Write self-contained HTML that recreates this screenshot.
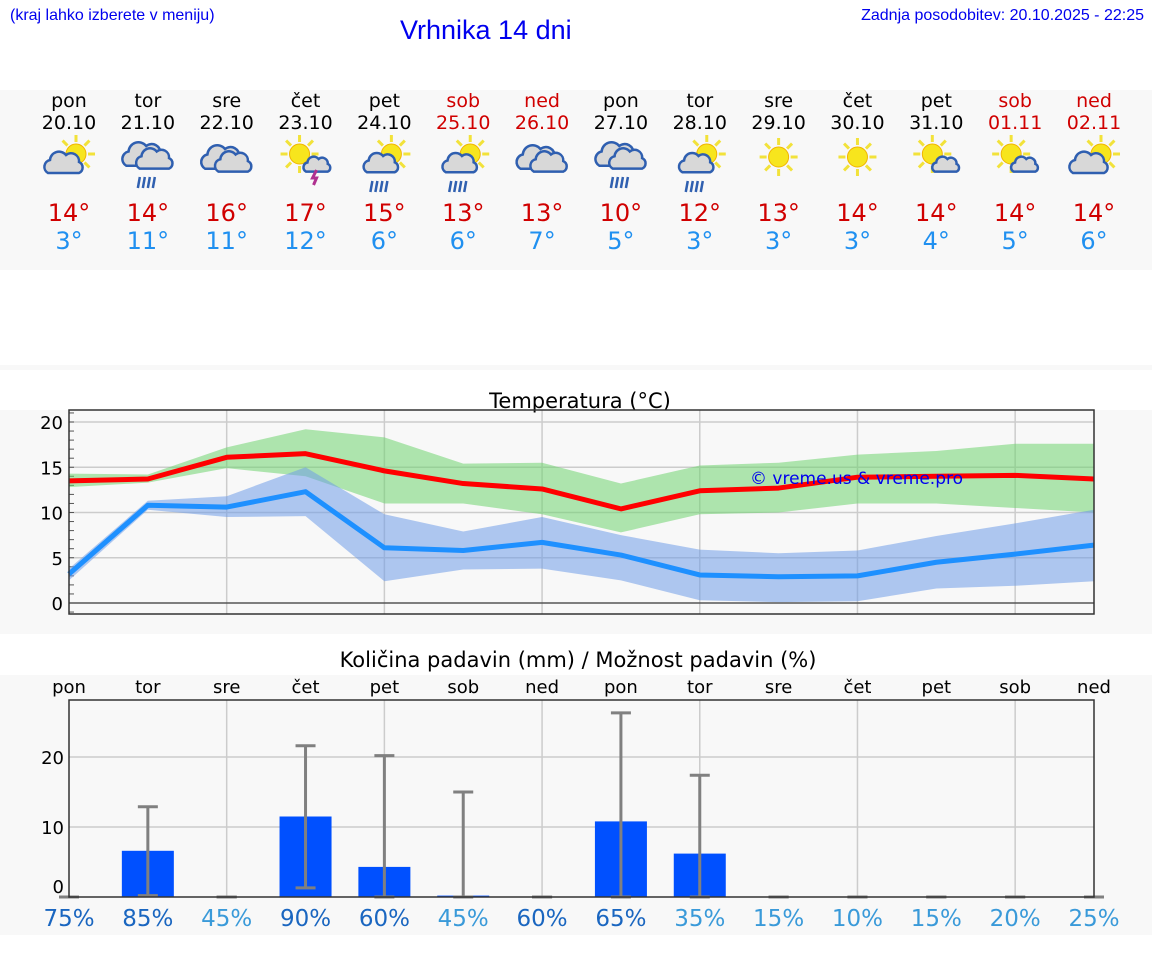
<!DOCTYPE html>
<html><head><meta charset="utf-8">
<style>
body{margin:0;width:1152px;height:975px;background:#fff;font-family:"DejaVu Sans","Liberation Sans",sans-serif;position:relative;overflow:hidden}
.abs{position:absolute}
</style></head><body>
<div class="abs" style="left:10px;top:7px;font:16px 'Liberation Sans',sans-serif;color:#0000ee">(kraj lahko izberete v meniju)</div>
<div class="abs" style="left:400px;top:15px;font:27px 'Liberation Sans',sans-serif;color:#0000ee">Vrhnika 14 dni</div>
<div class="abs" style="right:8px;top:7px;font:16px 'Liberation Sans',sans-serif;color:#0000ee">Zadnja posodobitev: 20.10.2025 - 22:25</div>
<svg id="svg" class="abs" style="left:0;top:0" width="1152" height="975"></svg>
<script>
const days=["pon","tor","sre","čet","pet","sob","ned","pon","tor","sre","čet","pet","sob","ned"];
const dates=["20.10","21.10","22.10","23.10","24.10","25.10","26.10","27.10","28.10","29.10","30.10","31.10","01.11","02.11"];
const icons=["sc","cr","c","st","sr","sr","c","cr","sr","s","s","sc2","sc2","sc"];
const tmax=[14,14,16,17,15,13,13,10,12,13,14,14,14,14];
const tmin=[3,11,11,12,6,6,7,5,3,3,3,4,5,6];
const maxLine=[13.5,13.7,16.1,16.5,14.6,13.2,12.6,10.4,12.4,12.7,13.9,14.0,14.1,13.7];
const maxHi=[14.3,14.2,17.2,19.2,18.3,15.4,15.5,13.2,15.2,15.5,16.4,16.8,17.6,17.6];
const maxLo=[12.8,13.3,14.9,14.0,11.0,11.0,9.8,7.8,9.8,10.0,11.0,11.0,10.5,10.0];
const minLine=[3.2,10.8,10.6,12.3,6.1,5.8,6.7,5.3,3.1,2.9,3.0,4.5,5.4,6.4];
const minHi=[3.8,11.3,11.8,15.0,9.8,7.9,9.5,7.5,5.9,5.5,5.8,7.4,8.8,10.3];
const minLo=[2.5,10.3,9.5,9.6,2.4,3.7,3.8,2.5,0.3,0.1,0.2,1.6,1.9,2.4];
const precip=[0,6.6,0,11.5,4.3,0.2,0,10.8,6.2,0,0,0,0,0];
const errLo=[0,0.2,0,1.3,0,0,0,0,0,0,0,0,0,0];
const errHi=[0,12.9,0,21.6,20.2,15,0,26.3,17.4,0,0,0,0,0];
const prob=[75,85,45,90,60,45,60,65,35,15,10,15,20,25];
const tTicks=[0,5,10,15,20];
const pTicks=[0,10,20];
const NS="http://www.w3.org/2000/svg";
const svg=document.getElementById('svg');
function el(t,a,p){const e=document.createElementNS(NS,t);for(const k in a)e.setAttribute(k,a[k]);(p||svg).appendChild(e);return e;}
function txt(x,y,s,sz,col,anchor){const e=el('text',{x:x,y:y,'font-size':sz,fill:col,'text-anchor':anchor||'middle','font-family':'DejaVu Sans, Liberation Sans, sans-serif'});e.textContent=s;return e;}
const X0=69,X1=1094;
const xd=i=>X0+i*(X1-X0)/13;
let r=el('rect',{x:0,y:90,width:1152,height:180,fill:'#f8f8f8'});
el('rect',{x:0,y:365,width:1152,height:5,fill:'#f8f8f8'});
r=el('rect',{x:0,y:410,width:1152,height:224,fill:'#f8f8f8'});
r=el('rect',{x:0,y:675,width:1152,height:260,fill:'#f8f8f8'});
function sun(g,cx,cy,rr){for(let k=0;k<8;k++){const a=k*Math.PI/4;el('line',{x1:cx+Math.cos(a)*(rr+2),y1:cy+Math.sin(a)*(rr+2),x2:cx+Math.cos(a)*(rr+9),y2:cy+Math.sin(a)*(rr+9),stroke:'#f2e23a','stroke-width':3},g);}el('circle',{cx:cx,cy:cy,r:rr,fill:'#f7e51d',stroke:'#f0b400','stroke-width':1},g);}
function cloud(g,cx,cy,s){const p=`M${cx-15*s},${cy+8*s} a${7*s},${7*s} 0 0 1 ${2*s},${-13*s} a${9*s},${9*s} 0 0 1 ${16*s},${-5*s} a${8*s},${8*s} 0 0 1 ${13*s},${7*s} a${6*s},${6*s} 0 0 1 ${0},${11*s} z`;el('path',{d:p,fill:'#d8d8d8',stroke:'#2f5fb0','stroke-width':2.5},g);}
function rain(g,cx,cy){for(let k=0;k<4;k++)el('line',{x1:cx-8+k*5,y1:cy,x2:cx-10+k*5,y2:cy+11,stroke:'#3060b0','stroke-width':2.5},g);}
for(let i=0;i<14;i++){const x=xd(i);const we=(i==5||i==6||i==12||i==13);const col=we?'#d00000':'#000';
 let t=txt(x,107,days[i],19,col);
 t=txt(x,129,dates[i],19,col);
 const g=el('g',{});
 const ic=icons[i];
 if(ic=='s'){sun(g,x,157,10);}
 else if(ic=='sc'){sun(g,x+7,154,10);cloud(g,x-6,165,1.0);}
 else if(ic=='sc2'){sun(g,x-4,154,10);cloud(g,x+9,166,0.7);}
 else if(ic=='c'){cloud(g,x-5,160,1.1);cloud(g,x+6,164,0.95);}
 else if(ic=='cr'){cloud(g,x-5,157,1.1);cloud(g,x+6,161,0.95);rain(g,x,177);}
 else if(ic=='sr'){sun(g,x+7,154,10);cloud(g,x-4,165,0.9);rain(g,x-4,181);}
 else if(ic=='st'){sun(g,x-6,154,10);cloud(g,x+11,166,0.7);el('path',{d:`M${x+11},${170} l-4,8 h4 l-3,7`,stroke:'#b03090','stroke-width':3,fill:'none'},g);}
 t=txt(x,221,tmax[i]+'°',24,'#d00000');
 t=txt(x,249,tmin[i]+'°',24,'#2090f0');
}
const TY0=410,TY1=614;const ty=v=>603-v*9.05;
let tt=txt(580,408,'Temperatura (°C)',21,'#000');
for(let i=2;i<14;i+=2)el('line',{x1:xd(i),y1:TY0,x2:xd(i),y2:TY1,stroke:'#ccc','stroke-width':1.5});
tTicks.forEach(v=>{el('line',{x1:X0,y1:ty(v),x2:X1,y2:ty(v),stroke:v==0?'#555':'#ccc','stroke-width':1.5});const l=txt(63,ty(v)+7,String(v),18,'#000','end');});
for(let v=-1;v<=21;v++)el('line',{x1:X0,y1:ty(v),x2:X0+5,y2:ty(v),stroke:'#555','stroke-width':1});
function band(hi,lo,col,name){let d='';hi.forEach((v,i)=>d+=(i?'L':'M')+xd(i)+','+ty(v));for(let i=lo.length-1;i>=0;i--)d+='L'+xd(i)+','+ty(lo[i]);const p=el('path',{d:d+'Z',fill:col,'fill-opacity':0.55});}
band(maxHi,maxLo,'#6fd46f','max-temp-range');band(minHi,minLo,'#6f9ce8','min-temp-range');
function line(a,col,name){const p=el('polyline',{points:a.map((v,i)=>xd(i)+','+ty(v)).join(' '),fill:'none',stroke:col,'stroke-width':5,'stroke-linejoin':'round'});}
line(minLine,'#1e90ff','min-temp-line');line(maxLine,'#ff0000','max-temp-line');
tt=txt(750,484,'© vreme.us & vreme.pro',17,'#0000ee','start');
el('rect',{x:X0,y:TY0,width:X1-X0,height:TY1-TY0,fill:'none',stroke:'#333','stroke-width':1.5});
const PY0=700,PY1=897;const py=v=>897-v*7;
tt=txt(578,667,'Količina padavin (mm) / Možnost padavin (%)',21,'#000');
for(let i=0;i<14;i++){const l=txt(xd(i),693,days[i],18,'#000');}
for(let i=2;i<14;i+=2)el('line',{x1:xd(i),y1:PY0,x2:xd(i),y2:PY1,stroke:'#ccc','stroke-width':1.5});
pTicks.forEach(v=>{if(v)el('line',{x1:X0,y1:py(v),x2:X1,y2:py(v),stroke:'#ccc','stroke-width':1.5});const l=txt(64,py(v)+(v?7:-4),String(v),18,'#000','end');});
for(let i=0;i<14;i++){const x=xd(i);
 if(precip[i]>0){const b=el('rect',{x:x-26,y:py(precip[i]),width:52,height:precip[i]*7,fill:'#0050ff'});}
 const g=el('g',{stroke:'#808080','stroke-width':3});
 el('line',{x1:x,y1:py(errLo[i]),x2:x,y2:py(errHi[i])},g);el('line',{x1:x-10,y1:py(errHi[i]),x2:x+10,y2:py(errHi[i])},g);el('line',{x1:x-10,y1:py(errLo[i]),x2:x+10,y2:py(errLo[i])},g);
 const l=txt(x,926,prob[i]+'%',23,prob[i]>=60?'#1a66c0':'#3a9ad9');
}
el('rect',{x:X0,y:PY0,width:X1-X0,height:PY1-PY0,fill:'none',stroke:'#333','stroke-width':1.5});
</script>
</body></html>
